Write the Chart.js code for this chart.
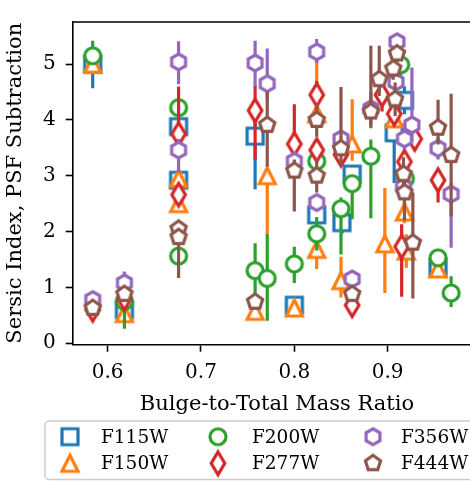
<!DOCTYPE html>
<html>
<head>
<meta charset="utf-8">
<script src="https://cdn.jsdelivr.net/npm/chart.js@4"></script>
<style>
  html, body { margin: 0; padding: 0; background: #fff; overflow: hidden; }
  #wrap { width: 490px; height: 481px; }
</style>
</head>
<body>
<div id="wrap"><canvas id="chart" width="490" height="481"></canvas></div>
<script>
// bulge-to-total ratio (x), Sersic index (y), and error bar extents per filter
const seriesNames = ['F115W', 'F150W', 'F200W', 'F277W', 'F356W', 'F444W'];
const xTicks = [0.6, 0.7, 0.8, 0.9];
const yTicks = [0, 1, 2, 3, 4, 5];

const f115wX = [0.584, 0.618, 0.676, 0.676, 0.758, 0.800, 0.824, 0.851, 0.862, 0.907, 0.918, 0.954];
const f115wY = [5.00, 0.60, 3.88, 2.92, 3.71, 0.68, 2.30, 2.16, 3.03, 3.77, 4.35, 1.36];
const f115wLo = [0.43, 0.08, 0.15, 0.15, 0.95, 0.05, 0.20, 0.20, 0.15, 0.90, 0.25, 0.12];
const f115wHi = [0.10, 0.08, 0.15, 0.15, 0.30, 0.05, 0.20, 0.20, 0.15, 0.55, 0.25, 0.10];

const f150wX = [0.584, 0.618, 0.676, 0.676, 0.758, 0.771, 0.800, 0.824, 0.824, 0.850, 0.862, 0.897, 0.907, 0.918, 0.920, 0.954];
const f150wY = [5.00, 0.53, 2.95, 2.50, 0.57, 3.00, 0.63, 4.11, 1.68, 1.12, 3.57, 1.78, 4.02, 2.35, 1.65, 1.33];
const f150wLo = [0.18, 0.05, 0.10, 0.10, 0.05, 1.04, 0.05, 0.20, 0.35, 0.30, 0.30, 0.88, 0.10, 0.20, 0.30, 0.05];
const f150wHi = [0.05, 0.05, 0.10, 0.10, 0.05, 0.10, 0.05, 0.95, 0.30, 0.43, 0.80, 1.00, 0.10, 0.20, 0.30, 0.05];

const f200wX = [0.584, 0.618, 0.676, 0.676, 0.758, 0.771, 0.800, 0.824, 0.824, 0.850, 0.862, 0.882, 0.914, 0.919, 0.954, 0.968];
const f200wY = [5.15, 0.75, 4.22, 1.56, 1.30, 1.16, 1.42, 3.26, 1.96, 2.41, 2.86, 3.35, 4.99, 2.95, 1.53, 0.90];
const f200wLo = [0.10, 0.49, 0.10, 0.10, 0.56, 0.76, 0.34, 0.15, 0.30, 0.82, 0.64, 1.11, 0.20, 0.20, 0.10, 0.25];
const f200wHi = [0.27, 0.53, 0.10, 0.10, 0.49, 0.80, 0.31, 0.15, 0.30, 0.20, 0.15, 0.30, 0.20, 0.20, 0.10, 0.30];

const f277wX = [0.584, 0.618, 0.676, 0.676, 0.758, 0.800, 0.824, 0.824, 0.850, 0.862, 0.894, 0.907, 0.918, 0.929, 0.915, 0.954];
const f277wY = [0.60, 0.80, 3.75, 2.66, 4.17, 3.57, 4.45, 3.46, 3.38, 0.68, 4.45, 4.11, 3.25, 3.66, 1.73, 2.92];
const f277wLo = [0.05, 0.10, 0.20, 0.15, 0.88, 0.30, 0.25, 0.20, 0.15, 0.05, 0.30, 0.20, 0.20, 0.20, 0.90, 0.40];
const f277wHi = [0.05, 0.10, 0.85, 0.15, 0.45, 0.71, 0.25, 0.20, 0.15, 0.05, 0.30, 0.20, 0.20, 0.20, 0.40, 0.15];

const f356wX = [0.584, 0.618, 0.676, 0.676, 0.758, 0.771, 0.800, 0.824, 0.824, 0.850, 0.862, 0.882, 0.910, 0.909, 0.926, 0.918, 0.917, 0.954, 0.968];
const f356wY = [0.78, 1.08, 5.04, 3.46, 5.02, 4.65, 3.26, 5.22, 2.52, 3.66, 1.15, 4.20, 5.40, 4.68, 3.91, 3.66, 2.80, 3.49, 2.67];
const f356wLo = [0.05, 0.10, 0.40, 0.40, 0.42, 0.30, 0.10, 0.20, 0.15, 0.15, 0.08, 0.30, 0.12, 0.20, 0.30, 0.20, 0.20, 0.20, 0.96];
const f356wHi = [0.05, 0.20, 0.37, 0.20, 0.40, 0.63, 0.10, 0.23, 0.15, 0.15, 0.08, 0.30, 0.12, 0.20, 1.03, 0.20, 0.20, 0.20, 0.20];

const f444wX = [0.584, 0.618, 0.676, 0.676, 0.758, 0.771, 0.800, 0.824, 0.824, 0.850, 0.862, 0.882, 0.891, 0.910, 0.906, 0.908, 0.917, 0.918, 0.927, 0.954, 0.968];
const f444wY = [0.63, 0.88, 2.05, 1.90, 0.74, 3.91, 3.09, 4.00, 3.00, 3.49, 0.88, 4.15, 4.73, 5.19, 4.92, 4.37, 3.03, 2.70, 1.80, 3.86, 3.37];
const f444wLo = [0.05, 0.10, 0.15, 0.73, 0.05, 0.75, 0.73, 0.30, 0.30, 0.30, 0.05, 0.30, 0.30, 0.15, 0.20, 0.30, 0.30, 0.50, 1.00, 0.30, 1.10];
const f444wHi = [0.05, 0.10, 0.15, 0.15, 0.05, 0.60, 0.20, 0.30, 0.30, 1.10, 0.05, 1.18, 0.60, 0.15, 0.20, 0.30, 0.30, 0.20, 0.90, 0.50, 1.10];

const colors = ['#1f77b4', '#ff7f0e', '#2ca02c', '#d62728', '#9467bd', '#8c564b'];
const shapes = ['square', 'triangle', 'circle', 'thinDiamond', 'hexagon', 'pentagon'];

const seriesX = [f115wX, f150wX, f200wX, f277wX, f356wX, f444wX];
const seriesY = [f115wY, f150wY, f200wY, f277wY, f356wY, f444wY];
const seriesLo = [f115wLo, f150wLo, f200wLo, f277wLo, f356wLo, f444wLo];
const seriesHi = [f115wHi, f150wHi, f200wHi, f277wHi, f356wHi, f444wHi];

const FONT = "'DejaVu Serif', serif";
const S = 16; // marker size in px

function polygon(ctx, n, r, cx, cy) {
  ctx.beginPath();
  for (let k = 0; k < n; k++) {
    const a = -Math.PI / 2 + k * 2 * Math.PI / n;
    const px = cx + r * Math.cos(a), py = cy + r * Math.sin(a);
    if (k === 0) ctx.moveTo(px, py); else ctx.lineTo(px, py);
  }
  ctx.closePath();
}

function makeMarker(shape, color) {
  const c = document.createElement('canvas');
  c.width = 30; c.height = 30;
  const ctx = c.getContext('2d');
  const m = 15, h = S / 2;
  ctx.beginPath();
  if (shape === 'square') {
    ctx.rect(m - h, m - h, S, S);
  } else if (shape === 'triangle') {
    ctx.moveTo(m, m - h); ctx.lineTo(m + h, m + h); ctx.lineTo(m - h, m + h); ctx.closePath();
  } else if (shape === 'circle') {
    ctx.arc(m, m, h, 0, Math.PI * 2);
  } else if (shape === 'thinDiamond') {
    const dy = S * 0.7071, dx = S * 0.7071 * 0.6;
    ctx.moveTo(m, m - dy); ctx.lineTo(m + dx, m); ctx.lineTo(m, m + dy); ctx.lineTo(m - dx, m); ctx.closePath();
  } else if (shape === 'hexagon') {
    polygon(ctx, 6, h, m, m);
  } else if (shape === 'pentagon') {
    polygon(ctx, 5, h, m, m);
  }
  ctx.fillStyle = '#fff';
  ctx.fill();
  ctx.lineWidth = 3.2;
  ctx.lineJoin = 'miter';
  ctx.strokeStyle = color;
  ctx.stroke();
  return c;
}

const markers = shapes.map((s, i) => makeMarker(s, colors[i]));

const datasets = seriesNames.map((name, i) => ({
  label: name,
  data: seriesX[i].map((x, j) => ({ x: x, y: seriesY[i][j], lo: seriesLo[i][j], hi: seriesHi[i][j] })),
  pointStyle: markers[i],
  pointRadius: 8,
  borderColor: colors[i],
  backgroundColor: '#fff',
  order: 10 - i
}));

const errorBars = {
  id: 'errorBars',
  beforeDatasetDraw(chart, args) {
    const ds = chart.data.datasets[args.index];
    const { ctx, chartArea, scales } = chart;
    ctx.save();
    ctx.beginPath();
    ctx.rect(chartArea.left, chartArea.top, chartArea.right - chartArea.left, chartArea.bottom - chartArea.top);
    ctx.clip();
    ctx.strokeStyle = ds.borderColor;
    ctx.lineWidth = 3.2;
    ctx.lineCap = 'butt';
    ds.data.forEach(p => {
      const px = scales.x.getPixelForValue(p.x);
      ctx.beginPath();
      ctx.moveTo(px, scales.y.getPixelForValue(p.y - p.lo));
      ctx.lineTo(px, scales.y.getPixelForValue(p.y + p.hi));
      ctx.stroke();
    });
    ctx.restore();
  }
};

const frame = {
  id: 'frame',
  afterDraw(chart) {
    const { ctx, chartArea } = chart;
    ctx.save();
    ctx.strokeStyle = '#000';
    ctx.lineWidth = 1.6;
    ctx.beginPath();
    ctx.moveTo(chartArea.left, chartArea.top);
    ctx.lineTo(chartArea.right, chartArea.top);
    ctx.lineTo(chartArea.right, chartArea.bottom);
    ctx.stroke();

    // legend box below the axes, 3 columns x 2 rows (column-major)
    const bx = 45, by = 421, bw = 480, bh = 58.5, r = 4;
    ctx.beginPath();
    ctx.moveTo(bx + r, by);
    ctx.lineTo(bx + bw - r, by);
    ctx.arcTo(bx + bw, by, bx + bw, by + r, r);
    ctx.lineTo(bx + bw, by + bh - r);
    ctx.arcTo(bx + bw, by + bh, bx + bw - r, by + bh, r);
    ctx.lineTo(bx + r, by + bh);
    ctx.arcTo(bx, by + bh, bx, by + bh - r, r);
    ctx.lineTo(bx, by + r);
    ctx.arcTo(bx, by, bx + r, by, r);
    ctx.closePath();
    ctx.fillStyle = 'rgba(255,255,255,0.8)';
    ctx.fill();
    ctx.strokeStyle = '#cccccc';
    ctx.lineWidth = 1.5;
    ctx.stroke();

    const colMarker = [70, 218, 373];
    const colText = [101, 252, 401];
    const rowY = [436.7, 463.3];
    ctx.font = '18.5px ' + FONT;
    ctx.fillStyle = '#000';
    ctx.textBaseline = 'middle';
    ctx.textAlign = 'left';
    seriesNames.forEach((name, i) => {
      const col = Math.floor(i / 2), row = i % 2;
      const mk = markers[i];
      ctx.drawImage(mk, colMarker[col] - mk.width / 2, rowY[row] - mk.height / 2);
      ctx.fillText(name, colText[col], rowY[row] + 1);
    });
    ctx.restore();
  }
};

new Chart(document.getElementById('chart'), {
  type: 'scatter',
  data: { datasets: datasets },
  options: {
    responsive: false,
    animation: false,
    devicePixelRatio: 1,
    layout: { padding: { top: 5, right: 6, bottom: 64, left: 0 } },
    plugins: { legend: { display: false }, tooltip: { enabled: false } },
    scales: {
      x: {
        type: 'linear',
        min: 0.5629,
        max: 1.0,
        afterBuildTicks: s => { s.ticks = xTicks.map(v => ({ value: v })); },
        afterFit: s => { s.height = 72.6; },
        ticks: { callback: v => v.toFixed(1), color: '#000', font: { family: FONT, size: 20 }, padding: 9, maxRotation: 0 },
        grid: { drawOnChartArea: false, drawTicks: true, tickLength: 7.3, tickWidth: 1.6, tickColor: '#000', color: '#000' },
        border: { display: true, color: '#000', width: 1.6 },
        title: { display: true, text: 'Bulge-to-Total Mass Ratio', color: '#000', font: { family: FONT, size: 21 }, padding: { top: 0, bottom: 0 } }
      },
      y: {
        type: 'linear',
        min: -0.022,
        max: 5.755,
        afterBuildTicks: s => { s.ticks = yTicks.map(v => ({ value: v })); },
        afterFit: s => { s.width = 73; },
        ticks: { callback: v => String(v), color: '#000', font: { family: FONT, size: 20 }, padding: 10 },
        grid: { drawOnChartArea: false, drawTicks: true, tickLength: 7.3, tickWidth: 1.6, tickColor: '#000', color: '#000' },
        border: { display: true, color: '#000', width: 1.6 },
        title: { display: true, text: 'Sersic Index, PSF Subtraction', color: '#000', font: { family: FONT, size: 21 }, padding: { top: 3, bottom: 0 } }
      }
    }
  },
  plugins: [errorBars, frame]
});
</script>
</body>
</html>
